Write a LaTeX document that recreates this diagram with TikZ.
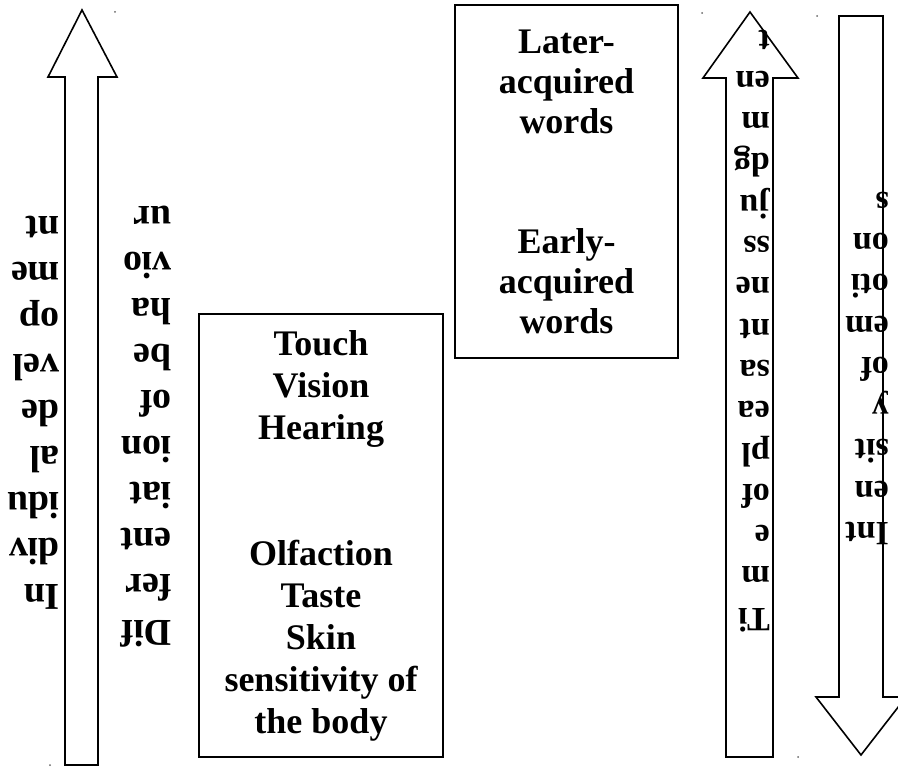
\documentclass[tikz,border=0pt]{standalone}
\usepackage{fontspec}
\setmainfont{Liberation Serif}
\tikzset{
  blockarrow/.style={draw=black, line width=1.6pt, line join=miter, fill=white},
  boxnode/.style={draw=black, line width=1.6pt, align=center, inner sep=0pt,
    font=\fontsize{36}{42}\selectfont\bfseries},
  flipbig/.style={rotate=180, align=left, inner sep=0pt, anchor=north west,
    font=\fontsize{38}{46}\selectfont\bfseries},
  flipsmall/.style={rotate=180, align=left, inner sep=0pt, anchor=north west,
    font=\fontsize{34}{41.3}\selectfont\bfseries},
  speck/.style={fill=black!60, draw=none}
}
\begin{document}
\begin{tikzpicture}[x=1pt,y=-1pt]
\useasboundingbox (0,0) rectangle (898,767);
% left up arrow
\draw[blockarrow] (65,765) -- (65,77) -- (48,77) -- (82,10) -- (117,77) -- (98,77) -- (98,765) -- cycle;
% right up arrow
\draw[blockarrow] (726,757) -- (726,78) -- (703,78) -- (750,12) -- (798,78) -- (773,78) -- (773,757) -- cycle;
% right down arrow
\draw[blockarrow] (839,16) -- (883,16) -- (883,697) -- (906,697) -- (861,755) -- (816,697) -- (839,697) -- cycle;
% boxes
\node[boxnode, minimum width=244pt, minimum height=443pt] (senses) at (321,535.5)
  {Touch\\Vision\\Hearing\\\mbox{}\\\mbox{}\\Olfaction\\Taste\\Skin\\sensitivity of\\the body};
\node[boxnode, font=\fontsize{36}{40}\selectfont\bfseries, minimum width=223pt, minimum height=353pt] (words) at (566.5,181.5)
  {Later-\\acquired\\words\\\mbox{}\\\mbox{}\\Early-\\acquired\\words};
% rotated texts
\node[flipbig] (indiv) at (60,610) {In\\div\\idu\\al\\de\\vel\\op\\me\\nt};
\node[flipbig] (diff) at (172,647) {Dif\\fer\\ent\\iat\\ion\\of\\be\\ha\\vio\\ur};
\node[flipsmall] (time) at (770,632) {Ti\\m\\e\\of\\pl\\ea\\sa\\nt\\ne\\ss\\ju\\dg\\m\\en\\t};
\node[flipsmall] (inten) at (889,545) {Int\\en\\sit\\y\\of\\em\\oti\\on\\s};
% stray specks
\fill[speck] (115,12) circle (1);
\fill[speck] (702,13) circle (1);
\fill[speck] (817,16) circle (1);
\fill[speck] (798,757) circle (1);
\fill[speck] (50,765) circle (1);
\end{tikzpicture}
\end{document}
